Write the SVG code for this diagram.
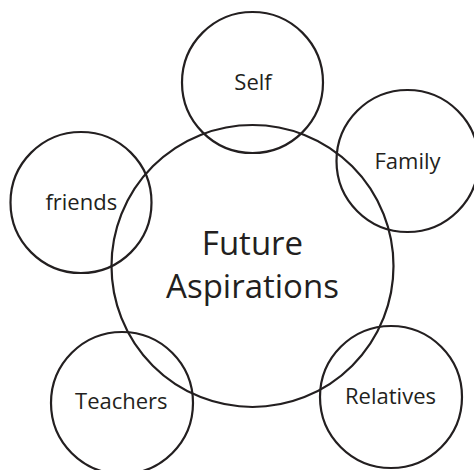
<svg xmlns="http://www.w3.org/2000/svg" width="474" height="470" viewBox="0 0 474 470">
<style>
.c{fill:none;stroke:#231f20;stroke-width:2.2}
.t{font-family:"Open Sans","Liberation Sans",sans-serif;fill:#231f20;text-anchor:middle;font-size:22px}
.big{font-size:33px}
</style>
<rect width="474" height="470" fill="#ffffff"/>
<g id="center">
<circle class="c" cx="252.5" cy="266" r="141"/>
<text class="t big" x="252.5" y="255">Future</text>
<text class="t big" x="252.5" y="298">Aspirations</text>
</g>
<g id="self">
<circle class="c" cx="252.5" cy="82.5" r="70.5"/>
<text class="t" x="253" y="90">Self</text>
</g>
<g id="family">
<circle class="c" cx="407.5" cy="161" r="71"/>
<text class="t" x="407.5" y="169">Family</text>
</g>
<g id="friends">
<circle class="c" cx="81" cy="202.5" r="70.5"/>
<text class="t" x="81.3" y="209.5">friends</text>
</g>
<g id="teachers">
<circle class="c" cx="122" cy="403" r="71"/>
<text class="t" x="121.3" y="409">Teachers</text>
</g>
<g id="relatives">
<circle class="c" cx="391" cy="397" r="71"/>
<text class="t" x="390.5" y="404">Relatives</text>
</g>
</svg>
